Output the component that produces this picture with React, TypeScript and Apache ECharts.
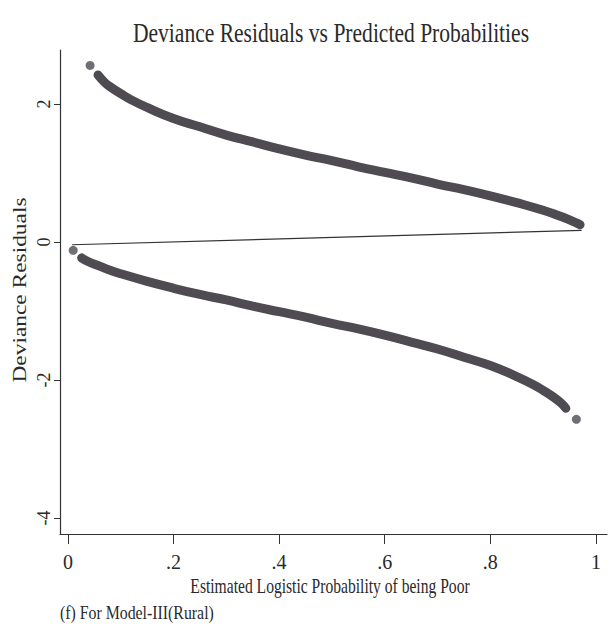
import React, { useEffect, useRef } from "react";
import * as echarts from "echarts";

const xTicks = [0, 0.2, 0.4, 0.6, 0.8, 1];
const yTicks = [-4, -2, 0, 2];

// Upper branch (observed = 1)
const upperP = [0.057, 0.07, 0.08, 0.1, 0.12, 0.15, 0.2, 0.25, 0.3, 0.35, 0.4, 0.45, 0.5, 0.55, 0.6, 0.65, 0.7, 0.75, 0.8, 0.85, 0.9, 0.93, 0.95, 0.962, 0.97];
const upperResid = [2.42, 2.31, 2.25, 2.15, 2.06, 1.95, 1.79, 1.67, 1.55, 1.45, 1.35, 1.26, 1.18, 1.09, 1.01, 0.93, 0.84, 0.76, 0.67, 0.57, 0.46, 0.38, 0.32, 0.28, 0.25];

// Lower branch (observed = 0)
const lowerP = [0.026, 0.04, 0.06, 0.08, 0.1, 0.15, 0.2, 0.25, 0.3, 0.35, 0.4, 0.45, 0.5, 0.55, 0.6, 0.65, 0.7, 0.75, 0.8, 0.85, 0.88, 0.9, 0.92, 0.935, 0.943];
const lowerResid = [-0.23, -0.29, -0.35, -0.41, -0.46, -0.57, -0.67, -0.76, -0.84, -0.93, -1.01, -1.09, -1.18, -1.26, -1.35, -1.45, -1.55, -1.67, -1.79, -1.95, -2.06, -2.15, -2.25, -2.34, -2.41];

// Isolated points
const isolatedP = [0.042, 0.01, 0.963];
const isolatedResid = [2.56, -0.12, -2.57];

// Thin connecting line
const refLineP = [0.008, 0.973];
const refLineResid = [-0.04, 0.17];

const markColor = "#4e4b52";
const textColor = "#2a2a2a";
const serif = "'Liberation Serif', 'DejaVu Serif', serif";

export default function App() {
  const ref = useRef<HTMLDivElement>(null);
  useEffect(() => {
    if (!ref.current) return;
    const chart = echarts.init(ref.current, null, { renderer: "svg" });
    const zip = (a: number[], b: number[]) => a.map((v, i) => [v, b[i]]);
    const fmt = (v: number) => {
      const s = String(Math.round(v * 100) / 100);
      return s.replace(/^(-?)0\./, "$1.");
    };
    chart.setOption({
      animation: false,
      backgroundColor: "#ffffff",
      grid: { left: 60, right: 7, top: 50, bottom: 100 },
      xAxis: {
        type: "value",
        min: -0.015,
        max: 1.021,
        axisLine: { show: true, onZero: false, lineStyle: { color: "#333", width: 1.2 } },
        axisTick: { show: true, customValues: xTicks, length: 10, lineStyle: { color: "#333" } },
        axisLabel: {
          customValues: xTicks,
          formatter: fmt,
          fontFamily: serif,
          fontSize: 20,
          color: textColor,
          margin: 18,
        },
        splitLine: { show: false },
      },
      yAxis: {
        type: "value",
        min: -4.232,
        max: 2.783,
        axisLine: { show: true, onZero: false, lineStyle: { color: "#333", width: 1.2 } },
        axisTick: { show: true, customValues: yTicks, length: 6, lineStyle: { color: "#333" } },
        axisLabel: {
          customValues: yTicks,
          formatter: fmt,
          rotate: 90,
          fontFamily: serif,
          fontSize: 18,
          color: textColor,
          margin: 7,
        },
        splitLine: { show: false },
      },
      graphic: [
        {
          type: "text",
          x: 331,
          y: 18,
          scaleX: 0.77,
          style: {
            text: "Deviance Residuals vs Predicted Probabilities",
            font: `28px ${serif}`,
            fill: textColor,
            textAlign: "center",
            textVerticalAlign: "top",
          },
        },
        {
          type: "text",
          x: 330,
          y: 576,
          scaleX: 0.78,
          style: {
            text: "Estimated Logistic Probability of being Poor",
            font: `20px ${serif}`,
            fill: textColor,
            textAlign: "center",
            textVerticalAlign: "top",
          },
        },
        {
          type: "text",
          x: 60,
          y: 604,
          scaleX: 0.88,
          style: {
            text: "(f) For Model-III(Rural)",
            font: `18px ${serif}`,
            fill: textColor,
            textAlign: "left",
            textVerticalAlign: "top",
          },
        },
        {
          type: "text",
          x: 20,
          y: 290,
          rotation: Math.PI / 2,
          scaleX: 1.3,
          style: {
            text: "Deviance Residuals",
            font: `18px ${serif}`,
            fill: textColor,
            textAlign: "center",
            textVerticalAlign: "middle",
          },
        },
      ],
      series: [
        {
          type: "line",
          data: zip(refLineP, refLineResid),
          symbol: "none",
          lineStyle: { color: "#333", width: 1.2 },
          z: 1,
        },
        {
          type: "line",
          data: zip(upperP, upperResid),
          smooth: true,
          symbol: "none",
          lineStyle: { color: markColor, width: 9, cap: "round", join: "round" },
          z: 2,
        },
        {
          type: "line",
          data: zip(lowerP, lowerResid),
          smooth: true,
          symbol: "none",
          lineStyle: { color: markColor, width: 9, cap: "round", join: "round" },
          z: 2,
        },
        {
          type: "scatter",
          data: zip(isolatedP, isolatedResid),
          symbol: "circle",
          symbolSize: 9,
          itemStyle: { color: markColor },
          z: 3,
        },
      ],
    });
    return () => chart.dispose();
  }, []);
  return <div ref={ref} style={{ width: 614, height: 634, position: "absolute", left: 0, top: 0 }} />;
}
